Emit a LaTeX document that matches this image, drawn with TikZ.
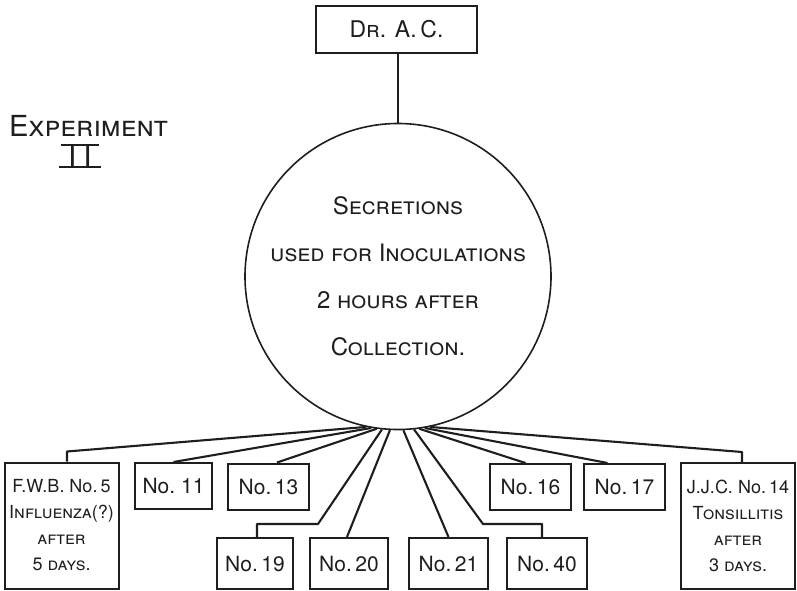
\documentclass[tikz,border=0pt]{standalone}
\usepackage{fontspec}
\setmainfont{TeX Gyre Heros}
\usepackage{xcolor}
\definecolor{ink}{HTML}{1E1E1E}
\tikzset{
  box/.style={draw=ink, line width=2pt, inner sep=0pt, text=ink, font=\fontsize{21}{26}\selectfont},
  tallbox/.style={box, minimum width=114pt, minimum height=126pt, align=center, font=\fontsize{18}{26}\selectfont},
  topbox/.style={box, minimum height=46pt},
  lowbox/.style={box, minimum height=51pt},
  link/.style={draw=ink, line width=2.1pt, line join=round},
  note/.style={text=ink, align=center, inner sep=0pt},
}

\begin{document}
\begin{tikzpicture}[x=1pt, y=-1pt]
  \useasboundingbox (0,0) rectangle (797,591);
  % heading
  \node[note, font=\fontsize{29}{29}\selectfont] (exp) at (88.5,126) {\textsc{Experiment}};
  \node[note, minimum width=38pt, font=\fontsize{30}{30}\selectfont] (expnum) at (80,156) {I\hspace{7pt}I};
  \draw[link, line width=1.6pt] (expnum.north west) -- (expnum.north east);
  \draw[link, line width=1.6pt] ([xshift=-2pt]expnum.south west) -- ([xshift=2pt]expnum.south east);
  % donor and pooled secretions
  \node[box, minimum width=161pt, minimum height=47pt, font=\fontsize{23}{23}\selectfont] (drac) at (396.5,29.5) {\textsc{Dr.} A.\,C.};
  \node[circle, draw=ink, line width=1.6pt, minimum size=306pt, inner sep=0pt] (sec) at (398,276.5) {};
  \node[note, font=\fontsize{24}{47}\selectfont] (sectext) at (sec.center) {\textsc{Secretions}\\ \textsc{used for Inoculations}\\ 2 \textsc{hours after}\\ \textsc{Collection.}};
  \draw[link] (drac.south -| sec.north) -- (sec.north);
  % inoculated persons, upper row
  \node[tallbox] (fwb) at (61.5,525.5) {F.W.B. No.\,5\\ \textsc{Influenza(?)}\\ \textsc{after}\\ 5 \textsc{days.}};
  \node[topbox, minimum width=77pt] (n11) at (173.5,486) {No.~11};
  \node[topbox, minimum width=81pt] (n13) at (268.5,486.5) {No.\,13};
  \node[topbox, minimum width=81pt] (n16) at (530.5,487) {No.\,16};
  \node[topbox, minimum width=81pt] (n17) at (624.5,487) {No.\,17};
  \node[tallbox] (jjc) at (738,526) {J.J.C. No.\,14\\ \textsc{Tonsillitis}\\ \textsc{after}\\ 3 \textsc{days.}};
  % lower row
  \node[lowbox, minimum width=76pt] (n19) at (255,563.5) {No.\,19};
  \node[lowbox, minimum width=78pt] (n20) at (349,563.5) {No.\,20};
  \node[lowbox, minimum width=79pt] (n21) at (448.5,563.5) {No.\,21};
  \node[lowbox, minimum width=80pt] (n40) at (547,563.5) {No.\,40};
  % connectors from the circle
  \foreach \ang/\dest/\dx in {260/n11/0, 262/n13/8.5, 267.5/n20/-2, 272.5/n21/0, 278/n16/-5, 280/n17/-17}
    \draw[link] (sec.\ang) -- ([xshift=\dx pt]\dest.north);
  \draw[link] (sec.258) -- ([xshift=5.5pt,yshift=10pt]fwb.north) -- ([xshift=5.5pt]fwb.north);
  \draw[link] (sec.282) -- ([xshift=4pt,yshift=10pt]jjc.north) -- ([xshift=4pt]jjc.north);
  \draw[link] (sec.264) -- ([xshift=63pt,yshift=13pt]n19.north) -- ([xshift=2pt,yshift=13pt]n19.north) -- ([xshift=2pt]n19.north);
  \draw[link] (sec.276) -- ([xshift=-64pt,yshift=13pt]n40.north) -- ([xshift=-5pt,yshift=13pt]n40.north) -- ([xshift=-5pt]n40.north);
\end{tikzpicture}
\end{document}
